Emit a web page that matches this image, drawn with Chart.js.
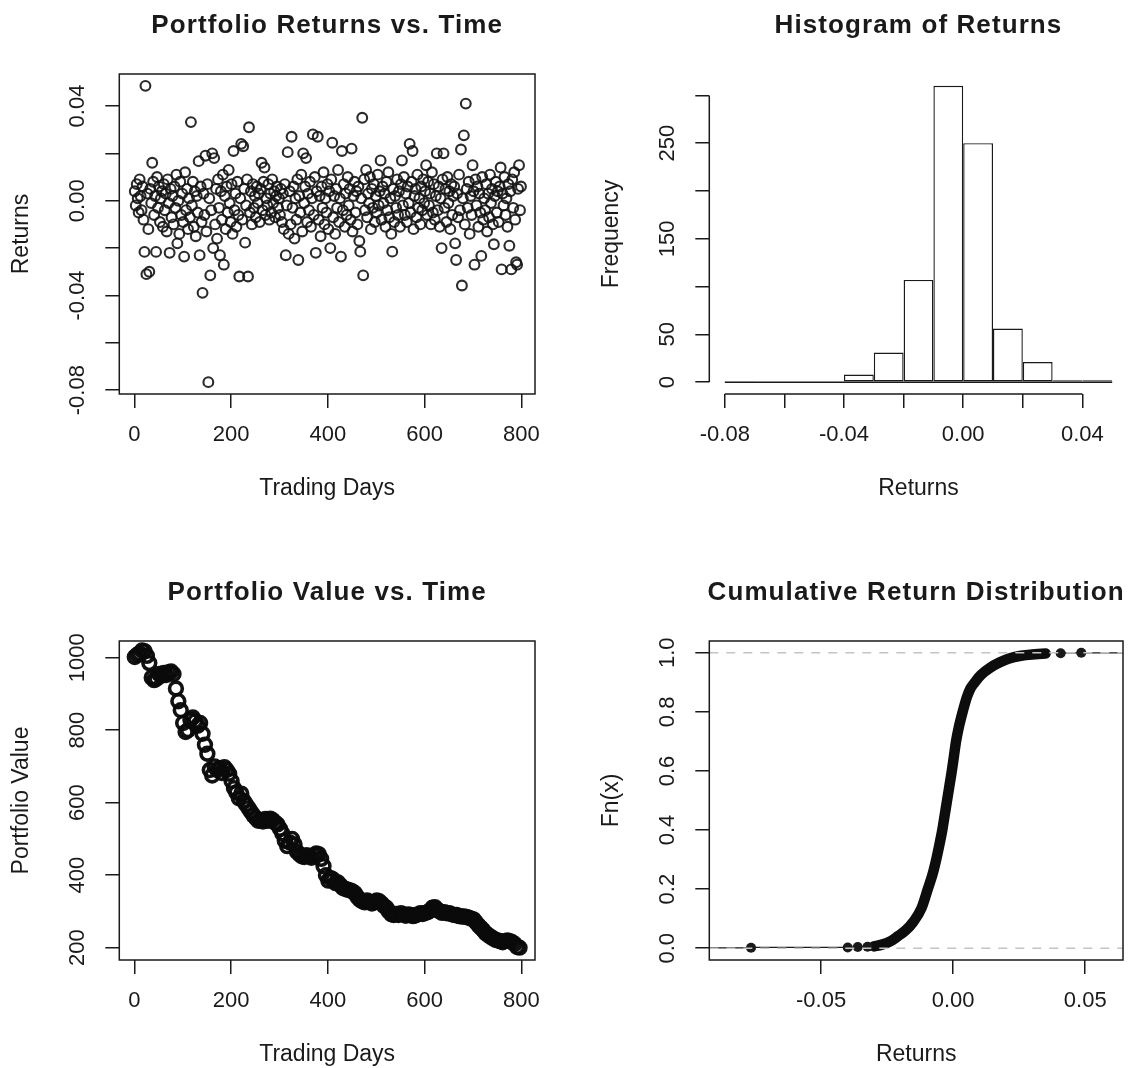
<!DOCTYPE html>
<html>
<head>
<meta charset="utf-8">
<title>Portfolio returns</title>
<script src="https://cdn.jsdelivr.net/npm/chart.js@4.4.1/dist/chart.umd.min.js"></script>
<style>
  html, body { margin: 0; padding: 0; background: #fff; overflow: hidden; }
  #page { position: relative; width: 1128px; height: 1068px; }
  canvas { position: absolute; }
</style>
</head>
<body>
<div id="page">
  <canvas id="returnsChart" width="564" height="534" style="left:0;top:0"></canvas>
  <canvas id="histChart" width="564" height="534" style="left:564px;top:0"></canvas>
  <canvas id="valueChart" width="564" height="534" style="left:0;top:534px"></canvas>
  <canvas id="ecdfChart" width="564" height="534" style="left:564px;top:534px"></canvas>
</div>
<script>
// daily returns, every 2nd trading day
const RETURN_STEP = 2;
const returns = [
  0.004, -0.002, 0.007, 0.001, -0.005, 0.009, 0.002, -0.004, 0.006, -0.008,
  -0.0216, 0.0485, -0.031, 0.003, -0.012, -0.030, 0.005, -0.001, 0.016, 0.008,
  -0.006, 0.002, -0.0216, 0.010, -0.003, 0.006, -0.009, 0.001, 0.004, -0.011,
  0.007, -0.004, 0.003, -0.013, 0.009, -0.001, -0.022, 0.005, -0.007, 0.002,
  -0.010, 0.006, -0.003, 0.011, -0.018, 0.000, -0.014, 0.008, -0.006, 0.003,
  -0.009, -0.0236, 0.012, -0.004, 0.005, -0.012, 0.001, -0.007, 0.0332, -0.002,
  0.008, -0.011, 0.004, -0.015, 0.002, -0.005, 0.0167, -0.023, 0.006, -0.009,
  -0.0389, 0.003, -0.006, 0.019, -0.013, 0.007, -0.0766, 0.001, -0.0315, -0.004,
  0.020, -0.020, 0.018, -0.010, 0.005, -0.016, 0.009, -0.003, -0.023, 0.004,
  -0.008, 0.011, -0.027, 0.002, -0.012, 0.006, -0.005, 0.013, -0.001, -0.009,
  0.007, -0.014, 0.021, -0.004, 0.003, -0.011, 0.008, -0.006, -0.032, 0.001,
  0.024, -0.008, 0.023, 0.005, -0.0177, -0.002, 0.009, -0.032, 0.031, -0.005,
  0.004, -0.010, 0.007, -0.003, 0.002, -0.007, 0.006, -0.001, 0.003, -0.009,
  0.005, 0.016, -0.004, 0.008, 0.014, -0.006, 0.001, -0.002, 0.007, -0.008,
  0.003, -0.005, 0.009, -0.001, 0.004, -0.007, 0.002, 0.006, -0.003, 0.001,
  -0.006, 0.005, -0.009, 0.003, -0.012, 0.007, -0.023, -0.002, 0.0205, -0.014,
  0.004, -0.010, 0.027, -0.003, 0.006, -0.016, 0.001, -0.008, 0.009, -0.025,
  0.002, -0.005, 0.011, -0.013, 0.020, -0.001, 0.006, 0.018, -0.009, 0.003,
  -0.004, 0.008, -0.011, 0.001, 0.028, -0.006, 0.010, -0.022, 0.004, 0.027,
  -0.008, 0.002, -0.015, 0.006, -0.003, 0.012, -0.010, 0.001, -0.005, 0.007,
  -0.012, 0.004, -0.020, 0.009, 0.0245, -0.007, 0.002, -0.014, 0.005, -0.003,
  0.013, -0.009, 0.001, -0.0236, 0.021, -0.004, 0.007, -0.011, 0.003, -0.006,
  0.010, -0.002, 0.005, -0.008, 0.022, -0.013, 0.002, 0.008, -0.005, 0.004,
  -0.010, 0.006, -0.017, -0.0215, 0.001, 0.035, -0.0315, 0.009, -0.004, 0.013,
  -0.007, 0.003, -0.001, 0.010, -0.012, 0.005, -0.003, 0.007, -0.009, 0.002,
  -0.005, 0.011, -0.002, 0.004, 0.017, -0.008, 0.006, -0.001, 0.003, -0.011,
  0.008, -0.004, 0.012, -0.007, 0.001, -0.014, -0.0215, 0.005, -0.009, 0.002,
  -0.003, 0.009, -0.006, 0.004, -0.011, 0.007, 0.017, -0.002, 0.010, -0.006,
  0.003, -0.009, 0.006, -0.001, 0.024, -0.005, 0.008, 0.021, -0.012, 0.002,
  0.005, -0.007, 0.011, -0.003, 0.001, -0.010, 0.006, -0.004, 0.009, -0.001,
  0.004, 0.015, -0.006, 0.008, -0.002, 0.003, -0.010, 0.012, -0.005, 0.007,
  -0.008, 0.002, 0.020, -0.004, 0.006, -0.011, 0.001, -0.020, 0.009, 0.020,
  -0.003, 0.005, -0.009, 0.010, -0.001, 0.004, -0.012, 0.007, -0.006, 0.002,
  0.006, -0.018, -0.025, 0.003, -0.007, 0.011, -0.004, 0.0216, -0.0358, 0.001,
  0.0276, -0.010, 0.041, 0.005, -0.003, 0.008, -0.014, 0.002, -0.006, 0.015,
  0.004, -0.027, 0.009, -0.002, 0.006, -0.011, 0.003, -0.005, -0.0233, 0.010,
  -0.008, 0.001, -0.004, 0.007, -0.013, 0.003, -0.007, 0.011, -0.001, 0.005,
  -0.010, -0.0184, 0.002, 0.008, -0.005, 0.004, -0.009, 0.006, 0.014, -0.029,
  0.003, -0.002, 0.010, -0.006, 0.001, -0.011, 0.007, -0.019, 0.004, -0.029,
  0.009, -0.003, 0.012, -0.008, -0.026, -0.027, 0.005, 0.015, -0.004, 0.006
];
const returnDays = returns.map((_, i) => 1 + i * RETURN_STEP);

// portfolio value, read every 5th trading day
const VALUE_STEP = 5;
const portfolioValue = [
  1002, 1008, 1012, 1020, 1018, 1005, 985, 945, 938, 942,
  955, 950, 958, 952, 960, 962, 955, 915, 880, 855,
  820, 795, 800, 828, 835, 825, 812, 820, 790, 760,
  735, 690, 675, 700, 690, 695, 682, 698, 690, 680,
  660, 640, 628, 612, 625, 605, 595, 585, 575, 565,
  558, 550, 552, 548, 555, 550, 556, 552, 545, 540,
  528, 515, 495, 480, 490, 500, 485, 465, 458, 452,
  450, 455, 452, 448, 455, 460, 458, 445, 425, 400,
  385, 392, 388, 378, 380, 372, 365, 362, 360, 358,
  355, 350, 340, 332, 328, 325, 330, 327, 322, 325,
  330, 328, 322, 315, 310, 300, 292, 290, 293, 290,
  295, 292, 288, 292, 290, 287, 289, 292, 295, 293,
  296, 298, 302, 310, 312, 305, 300, 296, 298, 295,
  295, 292, 290, 290, 287, 286, 286, 285, 283, 280,
  278, 270, 262, 255, 248, 240, 235, 230, 226, 222,
  220, 218, 215, 218, 220, 218, 215, 210, 202, 200
];
const valueDays = portfolioValue.map((_, i) => 1 + i * VALUE_STEP);

// histogram of returns
const histBreaks = [-0.08, -0.07, -0.06, -0.05, -0.04, -0.03, -0.02, -0.01, 0, 0.01, 0.02, 0.03, 0.04, 0.05];
const histCounts = [1, 0, 0, 0, 8, 31, 107, 310, 250, 56, 21, 2, 2];

// empirical CDF: dense middle part, and the lone points in the tails
const ecdfX = [-0.030, -0.027, -0.024, -0.021, -0.018, -0.015, -0.012, -0.0096, -0.0078, -0.0064,
  -0.0052, -0.0041, -0.0032, -0.0023, -0.0014, -0.0005, 0.0003, 0.0011, 0.0022, 0.0036,
  0.0052, 0.0066, 0.0082, 0.0105, 0.0141, 0.0175, 0.0209, 0.0257, 0.0310, 0.0350];
const ecdfF = [0.006, 0.012, 0.022, 0.040, 0.060, 0.090, 0.135, 0.200, 0.250, 0.300,
  0.350, 0.400, 0.450, 0.500, 0.550, 0.600, 0.650, 0.700, 0.750, 0.800,
  0.850, 0.880, 0.900, 0.925, 0.950, 0.967, 0.980, 0.990, 0.995, 0.9975];
const ecdfLowX = [-0.0765, -0.0399, -0.0361, -0.0324];
const ecdfLowF = [0.0013, 0.0025, 0.0038, 0.005];
const ecdfHighX = [0.0407, 0.0485];
const ecdfHighF = [0.9987, 1.0];

// axis ticks and labels
const dayTicks = [0, 200, 400, 600, 800];
const dayLabels = ['0', '200', '400', '600', '800'];
const retTicks = [-0.08, -0.06, -0.04, -0.02, 0, 0.02, 0.04];
const retLabels = ['-0.08', '', '-0.04', '', '0.00', '', '0.04'];
const freqTicks = [0, 50, 100, 150, 200, 250, 300];
const freqLabels = ['0', '50', '', '150', '', '250', ''];
const valueTicks = [200, 400, 600, 800, 1000];
const valueLabels = ['200', '400', '600', '800', '1000'];
const fnTicks = [0, 0.2, 0.4, 0.6, 0.8, 1.0];
const fnLabels = ['0.0', '0.2', '0.4', '0.6', '0.8', '1.0'];
const ecdfRetTicks = [-0.05, 0, 0.05];
const ecdfRetLabels = ['-0.05', '0.00', '0.05'];

const INK = '#1a1a1a';
const FONT = '"Liberation Sans", Arial, sans-serif';
Chart.defaults.font.family = FONT;
Chart.defaults.color = INK;
Chart.defaults.animation = false;

// box / axis lines and the bold main title, placed the way R does it
const rFrame = {
  id: 'rFrame',
  afterDraw(chart, args, opts) {
    const { ctx, chartArea: a, scales } = chart;
    ctx.save();
    ctx.strokeStyle = INK;
    ctx.lineWidth = 1.5;
    if (opts.box) {
      ctx.strokeRect(a.left, a.top, a.right - a.left, a.bottom - a.top);
    } else {
      const xt = scales.x.ticks, yt = scales.y.ticks;
      ctx.beginPath();
      ctx.moveTo(scales.x.getPixelForValue(xt[0].value), a.bottom);
      ctx.lineTo(scales.x.getPixelForValue(xt[xt.length - 1].value), a.bottom);
      ctx.moveTo(a.left, scales.y.getPixelForValue(yt[0].value));
      ctx.lineTo(a.left, scales.y.getPixelForValue(yt[yt.length - 1].value));
      ctx.stroke();
    }
    if (opts.title) {
      ctx.fillStyle = INK;
      ctx.font = 'bold 26px ' + FONT;
      ctx.letterSpacing = '1.1px';
      ctx.textAlign = 'center';
      ctx.textBaseline = 'alphabetic';
      ctx.fillText(opts.title, (a.left + a.right) / 2, a.top - 41);
    }
    ctx.restore();
  }
};
Chart.register(rFrame);

function xAxis(min, max, tickValues, tickLabels, height, title, titlePad) {
  return {
    type: 'linear', position: 'bottom', min, max, offset: false,
    afterBuildTicks: s => { s.ticks = tickValues.map(v => ({ value: v })); },
    afterFit: s => { s.height = height; },
    grid: { drawOnChartArea: false, tickLength: 14, color: INK, lineWidth: 1.5, offset: false },
    border: { display: false },
    ticks: { autoSkip: false, minRotation: 0, maxRotation: 0, padding: 14, color: INK,
      font: { size: 22 }, callback: (v, i) => tickLabels[i] },
    title: { display: true, text: title, color: INK, font: { size: 23 },
      padding: { top: 0, bottom: titlePad } }
  };
}

function yAxis(min, max, tickValues, tickLabels, width, labelPad, title, titlePad) {
  return {
    type: 'linear', position: 'left', min, max,
    afterBuildTicks: s => { s.ticks = tickValues.map(v => ({ value: v })); },
    afterFit: s => { s.width = width; },
    grid: { drawOnChartArea: false, tickLength: 14, color: INK, lineWidth: 1.5 },
    border: { display: false },
    ticks: { autoSkip: false, minRotation: 90, maxRotation: 90, crossAlign: 'center',
      padding: labelPad, color: INK, font: { size: 22 }, callback: (v, i) => tickLabels[i] },
    title: { display: true, text: title, color: INK, font: { size: 23 },
      padding: { top: titlePad, bottom: 0 } }
  };
}

const quiet = { legend: { display: false }, tooltip: { enabled: false } };
const circle = {
  pointRadius: 4.9, pointBorderWidth: 2.1,
  pointBorderColor: 'rgba(20,20,20,0.9)', pointBackgroundColor: 'rgba(0,0,0,0)'
};

// Portfolio returns vs. time
new Chart(document.getElementById('returnsChart'), {
  type: 'scatter',
  data: { datasets: [{ data: returns.map((r, i) => ({ x: returnDays[i], y: r })), ...circle }] },
  options: {
    responsive: false,
    layout: { padding: { left: 0, right: 29, top: 74, bottom: 0 } },
    plugins: { ...quiet, rFrame: { box: true, title: 'Portfolio Returns vs. Time' } },
    scales: {
      x: xAxis(-31, 828, dayTicks, dayLabels, 140, 'Trading Days', 31.2),
      y: yAxis(-0.0816, 0.0535, retTicks, retLabels, 119.3, 2.2, 'Returns', 8.2)
    }
  }
});

// Histogram of returns
new Chart(document.getElementById('histChart'), {
  type: 'bar',
  data: {
    datasets: [
      {
        type: 'line',
        data: [{ x: histBreaks[0], y: 0 }, { x: histBreaks[histBreaks.length - 1], y: 0 }],
        borderColor: INK, borderWidth: 1.5, pointRadius: 0
      },
      {
        type: 'bar',
        data: histCounts.map((c, i) => ({ x: (histBreaks[i] + histBreaks[i + 1]) / 2, y: c })),
        backgroundColor: '#fff', borderColor: INK, borderWidth: 1.4,
        borderSkipped: false, barPercentage: 1, categoryPercentage: 1, inflateAmount: 0
      }
    ]
  },
  options: {
    responsive: false,
    layout: { padding: { left: 0, right: 0.3, top: 74, bottom: 0 } },
    plugins: { ...quiet, rFrame: { box: false, title: 'Histogram of Returns' } },
    scales: {
      x: xAxis(-0.0852, 0.0552, retTicks, retLabels, 140, 'Returns', 31.2),
      y: yAxis(-12.4, 322.4, freqTicks, freqLabels, 145.3, 8.95, 'Frequency', 34.2)
    }
  }
});

// Portfolio value vs. time
new Chart(document.getElementById('valueChart'), {
  type: 'scatter',
  data: {
    datasets: [{
      data: portfolioValue.map((v, i) => ({ x: valueDays[i], y: v })),
      ...circle, pointRadius: 6.4, pointBorderWidth: 3.6, pointBorderColor: 'rgba(10,10,10,0.97)'
    }]
  },
  options: {
    responsive: false,
    layout: { padding: { left: 0, right: 29, top: 107, bottom: 0 } },
    plugins: { ...quiet, rFrame: { box: true, title: 'Portfolio Value vs. Time' } },
    scales: {
      x: xAxis(-31, 828, dayTicks, dayLabels, 108, 'Trading Days', 0),
      y: yAxis(166, 1046, valueTicks, valueLabels, 119.3, 2.8, 'Portfolio Value', 8.2)
    }
  }
});

// Cumulative return distribution
const ecdfXMin = -0.0923, ecdfXMax = 0.0643;
const gridDash = { showLine: true, borderColor: '#c4c4c4', borderWidth: 1.5, borderDash: [9, 8], pointRadius: 0 };
const tailRadius = ctx => (ctx.raw.edge ? 0 : 5);
new Chart(document.getElementById('ecdfChart'), {
  type: 'scatter',
  data: {
    datasets: [
      { data: [{ x: ecdfXMin, y: 0 }, { x: ecdfXMax, y: 0 }], ...gridDash },
      { data: [{ x: ecdfXMin, y: 1 }, { x: ecdfXMax, y: 1 }], ...gridDash },
      {
        data: [{ x: ecdfXMin, y: 0, edge: true }, ...ecdfLowX.map((x, i) => ({ x, y: ecdfLowF[i] }))],
        showLine: true, stepped: 'after', borderColor: INK, borderWidth: 1.3,
        pointRadius: tailRadius, pointBackgroundColor: INK, pointBorderWidth: 0
      },
      {
        data: [...ecdfHighX.map((x, i) => ({ x, y: ecdfHighF[i] })), { x: ecdfXMax, y: 1, edge: true }],
        showLine: true, stepped: 'after', borderColor: INK, borderWidth: 1.3,
        pointRadius: tailRadius, pointBackgroundColor: INK, pointBorderWidth: 0
      },
      {
        data: ecdfX.map((x, i) => ({ x, y: ecdfF[i] })),
        showLine: true, borderColor: '#0d0d0d', borderWidth: 10.5, borderCapStyle: 'round',
        borderJoinStyle: 'round', cubicInterpolationMode: 'monotone', pointRadius: 0
      }
    ]
  },
  options: {
    responsive: false,
    layout: { padding: { left: 0, right: 0.3, top: 107, bottom: 0 } },
    plugins: { ...quiet, rFrame: { box: true, title: 'Cumulative Return Distribution' } },
    scales: {
      x: xAxis(ecdfXMin, ecdfXMax, ecdfRetTicks, ecdfRetLabels, 108, 'Returns', 0),
      y: yAxis(-0.04, 1.04, fnTicks, fnLabels, 145.3, 12.0, 'Fn(x)', 34.2)
    }
  }
});
</script>
</body>
</html>
